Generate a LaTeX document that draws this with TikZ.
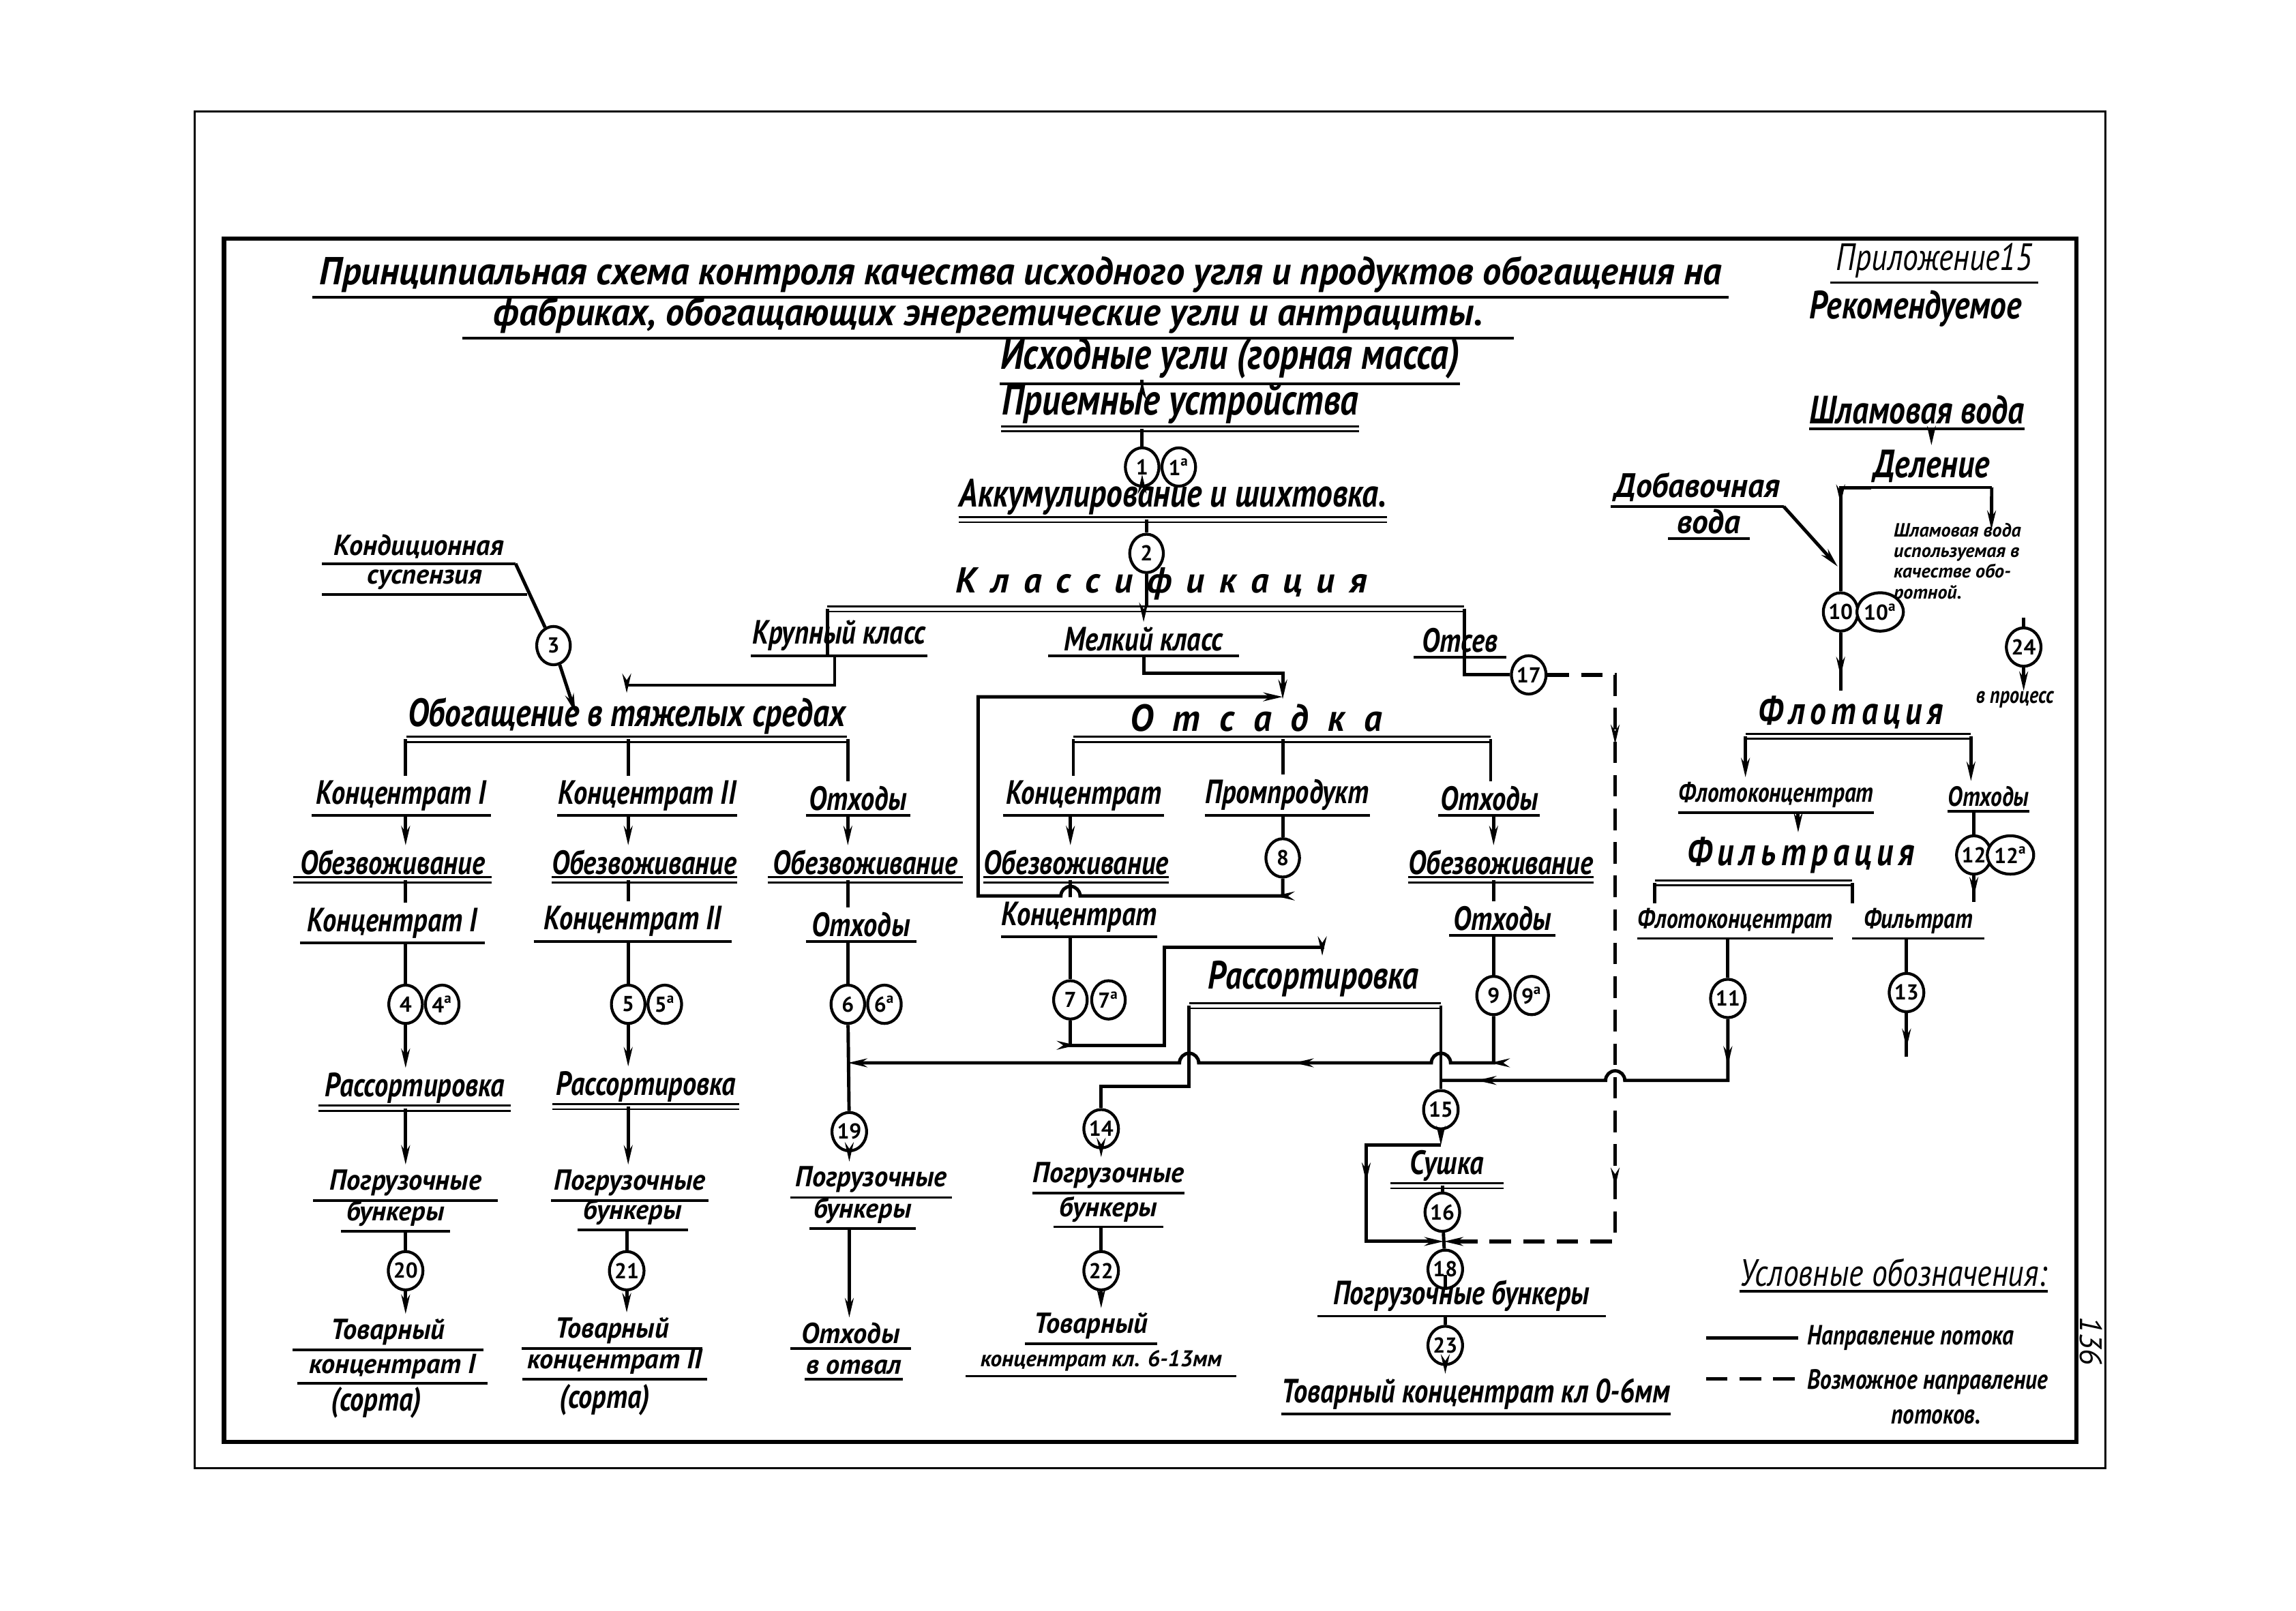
\documentclass[tikz,border=0pt]{standalone}
\usepackage{fontspec}
\setmainfont{PT Sans}
\usetikzlibrary{arrows.meta,shapes.geometric,decorations.markings}
\newcommand\myfT{\fontsize{15.5}{17}\selectfont\bfseries\itshape}
\newcommand\myfL{\fontsize{13.5}{15}\selectfont\bfseries\itshape}
\newcommand\myfLL{\fontsize{15}{17}\selectfont\bfseries\itshape}
\newcommand\myfK{\fontsize{15}{17}\selectfont\bfseries\itshape}
\newcommand\myfM{\fontsize{11.5}{13}\selectfont\bfseries\itshape}
\newcommand\myfS{\fontsize{9.5}{11}\selectfont\bfseries\itshape}
\newcommand\myfX{\fontsize{8}{8.6}\selectfont\bfseries\itshape}
\newcommand\myfN{\fontsize{9}{10}\selectfont\bfseries}
\newcommand\myfP{\fontsize{13}{15}\selectfont\itshape}
\newcommand\lsA{\hspace{6pt}}
\newcommand\lsB{\hspace{8pt}}
\newcommand\lsC{\hspace{2.2pt}}
\newsavebox\tallbox
\def\tallf{1.22}
\begin{document}
\begin{tikzpicture}[x=0.021473cm,y=-0.021473cm,
  flow/.style={line width=1.4pt},
  ar/.style={-{Stealth[length=8pt,width=3.6pt]}},
  marr/.style={postaction={decorate,decoration={markings,mark=at position #1 with {\pgfsetdash{}{0pt}\arrow{Stealth[length=8pt,width=3.6pt]}}}}},
  dsh/.style={line width=1.5pt,dash pattern=on 9pt off 5pt},
  uline/.style={line width=1.1pt},
  dbl/.style={line width=0.8pt,double distance=1.3pt},
  sy/.code={\def\tallf{#1}},
  tall/.style={execute at begin node={\setbox\tallbox=\hbox\bgroup},execute at end node={\egroup\scalebox{1}[\tallf]{\usebox\tallbox}}},
  lbl/.style={anchor=south,inner xsep=0pt,inner ysep=1.8pt,font=\myfM,sy=1.22,tall},
  ul/.style={minimum width=#1*0.6087pt,append after command={(\tikzlastnode.south west) edge[uline] (\tikzlastnode.south east)}},
  dul/.style={minimum width=#1*0.6087pt,append after command={(\tikzlastnode.south west) edge[dbl] (\tikzlastnode.south east)}},
  circ/.style={ellipse,draw,fill=white,line width=1.2pt,minimum width=14pt,minimum height=16pt,inner sep=0pt,font=\myfN},
  txt/.style={inner sep=0pt,font=\myfM,sy=1.22,tall}
]
\useasboundingbox (0,0) rectangle (1568,1100);
\fill[white] (0,0) rectangle (1568,1100);
% frames
\draw[line width=0.9pt] (133,76) rectangle (1438,1003);
\draw[line width=1.9pt] (153,163) rectangle (1418,985);

% title
\node[lbl,ul=970,font=\myfT,sy=1.05] (t1) at (697,203) {Принципиальная схема контроля качества исходного угля и продуктов обогащения на};
\node[lbl,ul=720,font=\myfT,sy=1.05] (t2) at (675,231) {фабриках, обогащающих энергетические угли и антрациты.};
\node[lbl,ul=142,font=\myfP] (app) at (1321,193) {Приложение15};
\node[txt,font=\myfL] (rec) at (1308,211) {Рекомендуемое};

% main trunk
\node[lbl,ul=314,font=\myfLL] (ish) at (840,262) {Исходные угли (горная масса)};
\node[lbl,dul=243,font=\myfLL] (pri) at (806,293) {Приемные устройства};
\node[circ] (c1) at (780,319) {1};
\node[circ] (c1a) at (805,319) {1\textsuperscript{а}};
\node[lbl,dul=293,font=\myfL] (akk) at (801,355) {Аккумулирование и шихтовка.};
\node[circ] (c2) at (783,378) {2};
\node[lbl,font=\myfK,sy=1.0] (kls) at (793,413) {К\lsA л\lsA а\lsA с\lsA с\lsA и\lsA ф\lsA и\lsA к\lsA а\lsA ц\lsA и\lsA я};
\coordinate (klsL) at (565,416);
\coordinate (klsR) at (1000,416);
\node[lbl,ul=120] (kr) at (573,448) {Крупный класс};
\node[lbl,ul=130] (ml) at (781,448) {Мелкий класс};
\node[lbl,ul=63] (otv) at (997,449) {Отсев};
\node[circ] (c17) at (1044,461) {17};
\node[lbl,ul=132,sy=1.05] (kon1) at (286,385) {Кондиционная};
\node[lbl,ul=140,sy=1.0] (kon2) at (290,406) {суспензия};
\node[circ] (c3) at (378,441) {3};
\node[lbl,dul=301,font=\myfL] (obt) at (428,505) {Обогащение в тяжелых средах};

% column 1
\node[lbl,ul=122] (k1a) at (274,557) {Концентрат I};
\node[lbl,dul=135] (ob1) at (268,601) {Обезвоживание};
\node[lbl,ul=126] (k1b) at (268,644) {Концентрат I};
\node[circ] (c4) at (277,686) {4};
\node[circ] (c4a) at (302,686) {4\textsuperscript{а}};
\node[lbl,dul=131] (rs1) at (283,757) {Рассортировка};
\node[lbl,ul=126,sy=1.05] (pb1a) at (277,820) {Погрузочные};
\node[lbl,ul=74,sy=1.0] (pb1b) at (270,841) {бункеры};
\node[circ] (c20) at (277,868) {20};
\node[lbl,ul=130,sy=1.05] (tv1a) at (265,922) {Товарный};
\node[lbl,ul=130,sy=1.0] (tv1b) at (268,945) {концентрат I};
\node[txt] (so1) at (257,958) {(сорта)};

% column 2
\node[lbl,ul=123] (k2a) at (442,557) {Концентрат II};
\node[lbl,dul=120] (ob2) at (440,601) {Обезвоживание};
\node[lbl,ul=135] (k2b) at (432,643) {Концентрат II};
\node[circ] (c5) at (429,686) {5};
\node[circ] (c5a) at (454,686) {5\textsuperscript{а}};
\node[lbl,dul=127] (rs2) at (441,756) {Рассортировка};
\node[lbl,ul=107,sy=1.05] (pb2a) at (430,820) {Погрузочные};
\node[lbl,ul=75,sy=1.0] (pb2b) at (432,840) {бункеры};
\node[circ] (c21) at (428,868) {21};
\node[lbl,ul=123,sy=1.05] (tv2a) at (418,921) {Товарный};
\node[lbl,ul=126,sy=1.0] (tv2b) at (420,942) {концентрат II};
\node[txt] (so2) at (413,956) {(сорта)};

% column 3
\node[lbl,ul=71] (o3a) at (586,557) {Отходы};
\node[lbl,dul=133] (ob3) at (591,601) {Обезвоживание};
\node[lbl,ul=75] (o3b) at (588,643) {Отходы};
\node[circ] (c6) at (579,686) {6};
\node[circ] (c6a) at (604,686) {6\textsuperscript{а}};
\node[circ] (c19) at (580,773) {19};
\node[lbl,ul=110,sy=1.05] (pb3a) at (595,818) {Погрузочные};
\node[lbl,ul=72,sy=1.0] (pb3b) at (589,839) {бункеры};
\node[lbl,ul=82,sy=1.05] (ot3a) at (581,921) {Отходы};
\node[lbl,ul=67,sy=1.0] (ot3b) at (583,942) {в отвал};

% jigging
\node[lbl,font=\myfK,sy=1.05] (otd) at (858,503) {О\lsB т\lsB с\lsB а\lsB д\lsB к\lsB а};
\coordinate (otdL) at (733,505);
\coordinate (otdR) at (1018,505);
\node[lbl,ul=110] (ko4a) at (740,557) {Концентрат};
\node[lbl,dul=110] (ob4) at (735,601) {Обезвоживание};
\node[lbl,ul=102] (ko4b) at (737,640) {Концентрат};
\node[circ] (c7) at (731,683) {7};
\node[circ] (c7a) at (757,683) {7\textsuperscript{а}};
\node[lbl,ul=107] (pp) at (879,557) {Промпродукт};
\node[circ] (c8) at (876,586) {8};
\node[lbl,ul=69] (o6a) at (1017,557) {Отходы};
\node[lbl,dul=126] (ob6) at (1025,601) {Обезвоживание};
\node[lbl,ul=72] (o6b) at (1026,639) {Отходы};
\node[circ] (c9) at (1020,680) {9};
\node[circ] (c9a) at (1046,680) {9\textsuperscript{а}};

\node[lbl,font=\myfL] (rs3) at (897,684) {Рассортировка};
\coordinate (rsL) at (812,687);
\coordinate (rsR) at (984,687);
\node[circ] (c14) at (752,771) {14};
\node[lbl,ul=103,sy=1.05] (pb4a) at (757,815) {Погрузочные};
\node[lbl,ul=75,sy=1.0] (pb4b) at (757,838) {бункеры};
\node[circ] (c22) at (752,868) {22};
\node[lbl,ul=90,sy=1.05] (tv4a) at (745,918) {Товарный};
\node[lbl,ul=185,font=\myfS,sy=1.0] (tv4b) at (752,940) {концентрат кл. 6-13мм};
\node[circ] (c15) at (984,758) {15};
\node[lbl,dul=77] (su) at (988,810) {Сушка};
\node[circ] (c16) at (985,828) {16};
\node[circ] (c18) at (987,867) {18};
\node[lbl,ul=197] (pb5) at (998,899) {Погрузочные бункеры};
\node[circ] (c23) at (987,919) {23};
\node[lbl,ul=265] (tv5) at (1008,966) {Товарный концентрат кл 0-6мм};

% right part
\node[lbl,ul=142,font=\myfL] (shv) at (1309,293) {Шламовая вода};
\node[lbl,ul=82,font=\myfL] (del) at (1319,333) {Деление};
\node[lbl,ul=118,font=\myfL,sy=1.05] (dob1) at (1159,346) {Добавочная};
\node[lbl,ul=55,font=\myfL,sy=1.05] (dob2) at (1167,368) {вода};
\node[inner sep=0pt,font=\myfX,align=left,anchor=north west] (sw) at (1293,357) {Шламовая вода\\используемая в\\качестве обо-\\ротной.};
\node[circ] (c10) at (1257,418) {10};
\node[circ] (c10a) at (1284,418) {10\textsuperscript{а}};
\node[circ] (c24) at (1382,442) {24};
\node[txt,font=\myfX] (vp) at (1376,478) {в процесс};
\node[lbl,font=\myfL] (flot) at (1264,501) {Ф\lsC л\lsC о\lsC т\lsC а\lsC ц\lsC и\lsC я};
\coordinate (flL) at (1192,503);
\coordinate (flR) at (1346,503);
\node[lbl,ul=130,font=\myfS] (fk1) at (1213,555) {Флотоконцентрат};
\node[lbl,ul=44,font=\myfS] (otx) at (1358,554) {Отходы};
\node[lbl,font=\myfL] (fil) at (1230,600) {Ф\lsC и\lsC л\lsC ь\lsC т\lsC р\lsC а\lsC ц\lsC и\lsC я};
\coordinate (fiL) at (1130,603);
\coordinate (fiR) at (1265,603);
\node[lbl,ul=126,font=\myfS] (fk2) at (1185,641) {Флотоконцентрат};
\node[lbl,ul=90,font=\myfS] (ftr) at (1310,641) {Фильтрат};
\node[circ] (c11) at (1180,682) {11};
\node[circ] (c13) at (1302,678) {13};
\node[circ] (c12) at (1348,584) {12};
\node[circ] (c12a) at (1373,584) {12\textsuperscript{а}};

% legend
\node[lbl,ul=210,font=\myfP] (leg) at (1293,882) {Условные обозначения:};
\coordinate (lgA) at (1165,914);
\coordinate (lgB) at (1228,914);
\coordinate (lgC) at (1165,942);
\coordinate (lgD) at (1228,942);
\node[txt,font=\myfS,anchor=west] (lg1) at (1234,914) {Направление потока};
\node[txt,font=\myfS,anchor=west] (lg2) at (1234,944) {Возможное направление};
\node[txt,font=\myfS] (lg3) at (1322,968) {потоков.};
\node[txt,font=\myfP,sy=1.0,rotate=-90] (pg) at (1428,916) {136};

% ---------- connectors ----------
\draw[flow,marr=0.75] (ish.south -| c1) -- (pri.north -| c1);
\draw[flow] (pri.south -| c1) -- (c1);
\draw[flow,ar] (c1) -- (akk.north -| c1);
\draw[flow] (akk.south -| c2) -- (c2);
\draw[flow] (c2) -- (c2 |- klsL);
\draw[dbl] (klsL) -- (klsR);
\draw[flow] (klsL) -- (kr.south -| klsL);
\coordinate (kA) at (570,468);
\coordinate (kB) at (428,468);
\draw[flow,ar] (kr.south -| kA) -- (kA) -- (kB) -- (obt.north -| kB);
\draw[flow,ar] (klsL -| ml) -- (ml.north);
\coordinate (mA) at (781,460);
\coordinate (mB) at (876,460);
\draw[flow,ar] (ml.south) -- (mA) -- (mB) -- (otd.north -| mB);
\draw[flow] (klsR) -- (klsR |- otv.south) -- (klsR |- c17) -- (c17);
\coordinate (dA) at (1103,461);
\coordinate (dB) at (1103,848);
\coordinate (bj) at (986,848);
\draw[dsh,ar,marr=0.17,marr=0.72] (c17) -- (dA) -- (dB) -- (bj);
\draw[flow] (kon1.south east) -- (c3);
\coordinate (kC) at (393,487);
\draw[flow,ar] (c3) -- (kC);

% column 1
\draw[flow] (obt.south -| c4) -- (k1a.north -| c4);
\draw[flow,ar] (k1a.south -| c4) -- (ob1.north -| c4);
\draw[flow] (ob1.south -| c4) -- (k1b.north -| c4);
\draw[flow] (k1b.south -| c4) -- (c4);
\draw[flow,ar] (c4) -- (rs1.north -| c4);
\draw[flow,ar] (rs1.south -| c4) -- (pb1a.north -| c4);
\draw[flow] (pb1b.south -| c20) -- (c20);
\draw[flow,ar] (c20) -- (tv1a.north -| c20);
% column 2
\draw[flow] (obt.south -| c5) -- (k2a.north -| c5);
\draw[flow,ar] (k2a.south -| c5) -- (ob2.north -| c5);
\draw[flow] (ob2.south -| c5) -- (k2b.north -| c5);
\draw[flow] (k2b.south -| c5) -- (c5);
\draw[flow,ar] (c5) -- (rs2.north -| c5);
\draw[flow,ar] (rs2.south -| c5) -- (pb2a.north -| c5);
\draw[flow] (pb2b.south -| c21) -- (c21);
\draw[flow,ar] (c21) -- (tv2a.north -| c21);
% column 3
\draw[flow] (obt.south -| c6) -- (o3a.north -| c6);
\draw[flow,ar] (o3a.south -| c6) -- (ob3.north -| c6);
\draw[flow] (ob3.south -| c6) -- (o3b.north -| c6);
\draw[flow] (o3b.south -| c6) -- (c6);
\draw[flow] (c6) -- (c19);
\draw[flow,ar] (c19) -- (pb3a.north -| c19);
\draw[flow,ar] (pb3b.south -| c19) -- (ot3a.north -| c19);

% jigging
\draw[dbl] (otdL) -- (otdR);
\draw[flow] (otdL) -- (ko4a.north -| otdL);
\draw[flow,ar] (ko4a.south -| c7) -- (ob4.north -| c7);
\draw[flow] (ob4.south -| c7) -- (ko4b.north -| c7);
\draw[flow] (ko4b.south -| c7) -- (c7);
\coordinate (r1) at (731,714);
\coordinate (r2) at (795,714);
\coordinate (r3) at (795,647);
\coordinate (r4) at (903,647);
\draw[flow,marr=0.08,ar] (c7) -- (r1) -- (r2) -- (r3) -- (r4) -- (rs3.north -| r4);
\draw[flow] (otdL -| c8) -- (pp.north -| c8);
\draw[flow] (pp.south -| c8) -- (c8);
\coordinate (q1) at (876,612);
\coordinate (h1) at (737.6,612);
\coordinate (q2) at (668,612);
\coordinate (q3) at (668,476);
\coordinate (q4) at (876,476);
\draw[flow,marr=0.03,ar] (c8) -- (q1) -- (h1) arc[start angle=0,end angle=180,radius=4pt] -- (q2) -- (q3) -- (q4);
\draw[flow] (otdR) -- (o6a.north -| otdR);
\draw[flow,ar] (o6a.south -| c9) -- (ob6.north -| c9);
\draw[flow] (ob6.south -| c9) -- (o6b.north -| c9);
\draw[flow] (o6b.south -| c9) -- (c9);
\coordinate (w1) at (1020,726);
\coordinate (hA) at (990.6,726);
\coordinate (hB) at (818.6,726);
\draw[flow,marr=0.07,marr=0.36,ar] (c9) -- (w1) -- (hA) arc[start angle=0,end angle=180,radius=4pt] -- (hB) arc[start angle=0,end angle=180,radius=4pt] -- (c6 |- w1);
\draw[dbl] (rsL) -- (rsR);
\coordinate (s1) at (812,742);
\coordinate (s2) at (752,742);
\draw[flow] (rsL) -- (s1) -- (s2) -- (c14);
\draw[flow] (rsR) -- (c15);
\draw[flow,ar] (c14) -- (pb4a.north -| c14);
\draw[flow] (pb4b.south -| c22) -- (c22);
\draw[flow,ar] (c22) -- (tv4a.north -| c22);
\coordinate (f1) at (1180,738);
\coordinate (hC) at (1109.6,738);
\draw[flow,marr=0.13,marr=0.9] (c11) -- (f1) -- (hC) arc[start angle=0,end angle=180,radius=4pt] -- (c15 |- f1);
\draw[flow,ar] (c15) -- (su.north -| c15);
\coordinate (b1) at (984,782);
\coordinate (b2) at (933,782);
\coordinate (b3) at (933,848);
\draw[flow,marr=0.45,ar] (b1) -- (b2) -- (b3) -- (bj);
\draw[flow] (su.south -| c16) -- (c16);
\draw[flow] (c16) -- (c18);
\draw[flow] (c18) -- (pb5.north -| c18);
\draw[flow] (pb5.south -| c23) -- (c23);
\draw[flow,ar] (c23) -- (tv5.north -| c23);

% right part
\draw[flow,ar] (shv.south -| del) -- (del.north);
\coordinate (e0) at (1257,333);
\draw[flow,marr=0.35] (del.south west) -- (e0) -- (c10);
\coordinate (e2) at (1360,362);
\draw[flow,ar] (del.south east) -- (e2);
\coordinate (e3) at (1255,387);
\draw[flow,ar] (dob1.south east) -- (e3);
\draw[flow,marr=0.75] (c10) -- (flot.north -| c10);
\coordinate (e4) at (1382,422);
\draw[flow] (e4) -- (c24);
\draw[flow,ar] (c24) -- (vp.north -| c24);
\draw[dbl] (flL) -- (flR);
\draw[flow,ar] (flL) -- (fk1.north -| flL);
\draw[flow,ar] (flR) -- (otx.north -| flR);
\coordinate (g1) at (1228,555);
\draw[flow,ar] (g1) -- (fil.north -| g1);
\draw[dbl] (fiL) -- (fiR);
\draw[flow] (fiL) -- (fk2.north -| fiL);
\draw[flow] (fiR) -- (ftr.north -| fiR);
\draw[flow] (fk2.south -| c11) -- (c11);
\draw[flow] (ftr.south -| c13) -- (c13);
\coordinate (e5) at (1302,722);
\draw[flow,marr=0.8] (c13) -- (e5);
\draw[flow] (otx.south -| c12) -- (c12);
\coordinate (e6) at (1348,616);
\draw[flow,marr=0.8] (c12) -- (e6);

% legend lines
\draw[flow] (lgA) -- (lgB);
\draw[dsh] (lgC) -- (lgD);
\end{tikzpicture}
\end{document}
